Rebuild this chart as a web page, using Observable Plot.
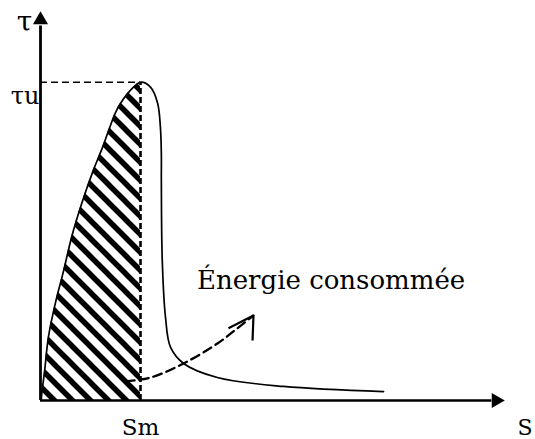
<!DOCTYPE html>
<html><head><meta charset="utf-8">
<script src="https://cdn.jsdelivr.net/npm/d3@7"></script>
<script src="https://cdn.jsdelivr.net/npm/@observablehq/plot@0.6"></script>
<style>body{margin:0;background:#fff}</style>
</head><body><div id="chart"></div>
<script>
// Rising branch (glissement s, contrainte τ)
const riseS = [0.2, 0.2, 0.9, 1.7, 3.2, 5.0, 6.7, 8.9, 11.4, 13.4, 14.7, 16.2, 17.3, 19.4, 21.6];
const riseT = [0, 0.8, 7.7, 16.2, 24.9, 33.3, 41.8, 50.5, 59.0, 64.9, 69.2, 73.8, 76.2, 79.5, 81.6];
// Falling branch
const fallS = [23.8, 25.3, 25.9, 26.1, 26.1, 26.3, 27.0, 28.1, 30.9, 38.2, 52.5, 74.1];
const fallT = [80.3, 76.2, 70.0, 63.3, 56.4, 35.9, 21.3, 13.6, 9.5, 5.9, 3.6, 2.3];
// Peak
const Sm = 21.6, tauU = 81.6;
// Annotation arrow (dashed) and its head wings
const arrowS = [18.4, 23.8, 30.9, 38.2, 42.5, 46.0];
const arrowT = [4.9, 5.9, 9.5, 14.6, 18.5, 21.8];
const wingS = [40.6, 45.8];
const wingT = [18.5, 15.4];
// Texts
const yLabel = "τ", yTick = "τu", xTick = "Sm", xLabel = "S";
const annotation = "Énergie consommée";

const rise = riseS.map((s, i) => ({s, t: riseT[i]}));
const curve = rise.concat(fallS.map((s, i) => ({s, t: fallT[i]})));
const energy = arrowS.map((s, i) => ({s, t: arrowT[i]}));
const tip = energy[energy.length - 1];
const wings = wingS.map((s, i) => ({s, t: wingT[i]}));

const plot = Plot.plot({
  width: 535, height: 439,
  marginLeft: 40, marginRight: 32, marginTop: 10, marginBottom: 39,
  x: {domain: [0, 100], axis: null},
  y: {domain: [0, 100], axis: null},
  style: {fontFamily: "DejaVu Serif", background: "white", overflow: "visible", color: "black"},
  marks: [
    Plot.areaX(rise, {x1: "s", x2: Sm, y: "t", fill: "url(#hatch)", curve: "catmull-rom"}),
    Plot.ruleY([tauU], {x1: 0, x2: Sm, stroke: "black", strokeWidth: 1.6, strokeDasharray: "7,4"}),
    Plot.ruleX([Sm], {y1: 0, y2: tauU, stroke: "black", strokeWidth: 2.6, strokeDasharray: "6,3"}),
    Plot.line(curve, {x: "s", y: "t", stroke: "black", strokeWidth: 1.7, curve: "catmull-rom"}),
    Plot.line(energy, {x: "s", y: "t", stroke: "black", strokeWidth: 2.3, strokeDasharray: "9,5", curve: "catmull-rom"}),
    Plot.link(wings, {x1: tip.s, y1: tip.t, x2: "s", y2: "t", stroke: "black", strokeWidth: 2.2}),
    // axes
    Plot.ruleY([0], {x1: 0, x2: 97.5, stroke: "black", strokeWidth: 2.6}),
    Plot.ruleX([0], {y1: 0, y2: 96, stroke: "black", strokeWidth: 2.8}),
    Plot.dot([0], {x: 98.4, y: 0, symbol: "triangle", r: 5.6, fill: "black", rotate: 90}),
    Plot.dot([0], {x: 0, y: 97.6, symbol: "triangle", r: 5.6, fill: "black"}),
    // labels
    Plot.text([yLabel], {x: 0, y: 100, text: d => d, dx: -16, dy: 20, lineAnchor: "bottom", fontSize: 28}),
    Plot.text([yTick], {x: 0, y: tauU, text: d => d, dx: -1, dy: 22, textAnchor: "end", lineAnchor: "bottom", fontSize: 24}),
    Plot.text([xTick], {x: Sm, y: 0, text: d => d, dx: 0, dy: 34, lineAnchor: "bottom", fontSize: 23}),
    Plot.text([xLabel], {x: 100, y: 0, text: d => d, dx: 14, dy: 34, textAnchor: "start", lineAnchor: "bottom", fontSize: 22}),
    Plot.text([annotation], {x: 33.8, y: 28.5, text: d => d, textAnchor: "start", lineAnchor: "bottom", fontSize: 26})
  ]
});

const svg = d3.select(plot);
const defs = svg.insert("defs", ":first-child");
const pat = defs.append("pattern")
  .attr("id", "hatch").attr("patternUnits", "userSpaceOnUse")
  .attr("width", 18).attr("height", 18)
  .attr("patternTransform", "translate(0,4)");
pat.append("rect").attr("width", 18).attr("height", 18).attr("fill", "white");
pat.append("path")
  .attr("d", "M-3,-3L21,21M-3,15L3,21M15,-3L21,3")
  .attr("stroke", "black").attr("stroke-width", 5.5);
document.getElementById("chart").append(plot);
</script>
</body></html>
